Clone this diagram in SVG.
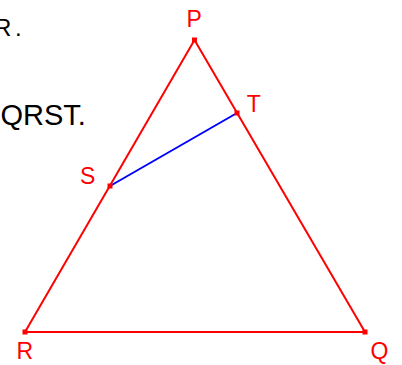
<svg xmlns="http://www.w3.org/2000/svg" width="402" height="365" viewBox="0 0 402 365">
<style>
.txt{font-family:"Liberation Sans",Arial,sans-serif;fill:#000}
.lbl{font-family:"Liberation Sans",Arial,sans-serif;font-size:23px;fill:#ff0000}
.side{stroke:#ff0000;stroke-width:2;fill:none}
.seg{stroke:#0000ff;stroke-width:2;fill:none}
.pt{fill:#ff0000}
</style>
<rect width="402" height="365" fill="#ffffff"/>
<text class="txt" x="-6" y="36" font-size="24" word-spacing="-3">R .</text>
<text class="txt" x="0.5" y="124.5" font-size="29">QRST.</text>
<g id="connectors">
<line class="side" x1="194.5" y1="40" x2="365" y2="332"/>
<line class="side" x1="365" y1="332" x2="25" y2="332"/>
<line class="side" x1="25" y1="332" x2="194.5" y2="40"/>
<line class="seg" x1="110" y1="186" x2="237" y2="113"/>
</g>
<g id="P"><rect class="pt" x="192" y="37.5" width="5" height="5"/><text class="lbl" x="186.5" y="26.7">P</text></g>
<g id="T"><rect class="pt" x="234.5" y="110.5" width="5" height="5"/><text class="lbl" x="246.8" y="111.7">T</text></g>
<g id="S"><rect class="pt" x="107.5" y="183.5" width="5" height="5"/><text class="lbl" x="80" y="184">S</text></g>
<g id="R"><rect class="pt" x="22.5" y="329.5" width="5" height="5"/><text class="lbl" x="16.5" y="359.3">R</text></g>
<g id="Q"><rect class="pt" x="362.5" y="329.5" width="5" height="5"/><text class="lbl" x="370.6" y="359">Q</text></g>
</svg>
